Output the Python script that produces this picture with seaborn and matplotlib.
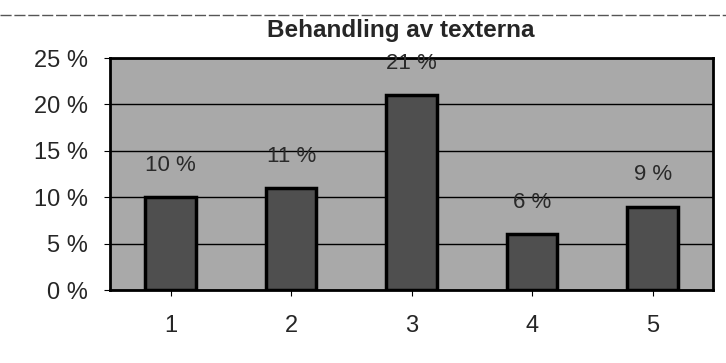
import numpy as np
import pandas as pd
import seaborn as sns
import matplotlib.pyplot as plt
from matplotlib.ticker import FuncFormatter

# Data
categories = ["1", "2", "3", "4", "5"]
shares = [10, 11, 21, 6, 9]
labels = ["10 %", "11 %", "21 %", "6 %", "9 %"]

df = pd.DataFrame({"kategori": categories, "andel": shares})

sns.set_style("white")
plt.rcParams["font.family"] = ["Liberation Sans", "DejaVu Sans"]

fig = plt.figure(figsize=(7.26, 3.63), dpi=100)
ax = fig.add_axes([0.152, 0.201, 0.830, 0.639])
ax.set_facecolor("#a9a9a9")

sns.barplot(data=df, x="kategori", y="andel", ax=ax, color="#4f4f4f",
            width=0.42, edgecolor="black", linewidth=2.5, saturation=1)

for i, (v, lab) in enumerate(zip(shares, labels)):
    ax.annotate(lab, (i, v), xytext=(0, 23), textcoords="offset points",
                ha="center", va="center", fontsize=16, color="#2a2a2a")

ax.set_ylim(0, 25)
ax.set_yticks(range(0, 26, 5))
ax.yaxis.set_major_formatter(FuncFormatter(lambda y, p: f"{int(y)} %"))
ax.grid(axis="y", color="black", linewidth=1)
ax.set_axisbelow(True)
ax.set_xlabel("")
ax.set_ylabel("")
ax.tick_params(axis="y", labelsize=17, length=4, color="black",
               direction="out", left=True, pad=12)
ax.tick_params(axis="x", labelsize=17, length=4, color="black",
               direction="out", bottom=True, pad=14)
for s in ax.spines.values():
    s.set_visible(True)
    s.set_color("black")
    s.set_linewidth(2)

fig.text(0.552, 0.915, "Behandling av texterna", ha="center", va="center",
         fontsize=17.5, fontweight="bold")
fig.add_artist(plt.Line2D([0.0, 1.0], [0.958, 0.958], color="#555555",
                          linewidth=1, linestyle=(0, (8, 2))))

fig.savefig("out.png", dpi=100)
